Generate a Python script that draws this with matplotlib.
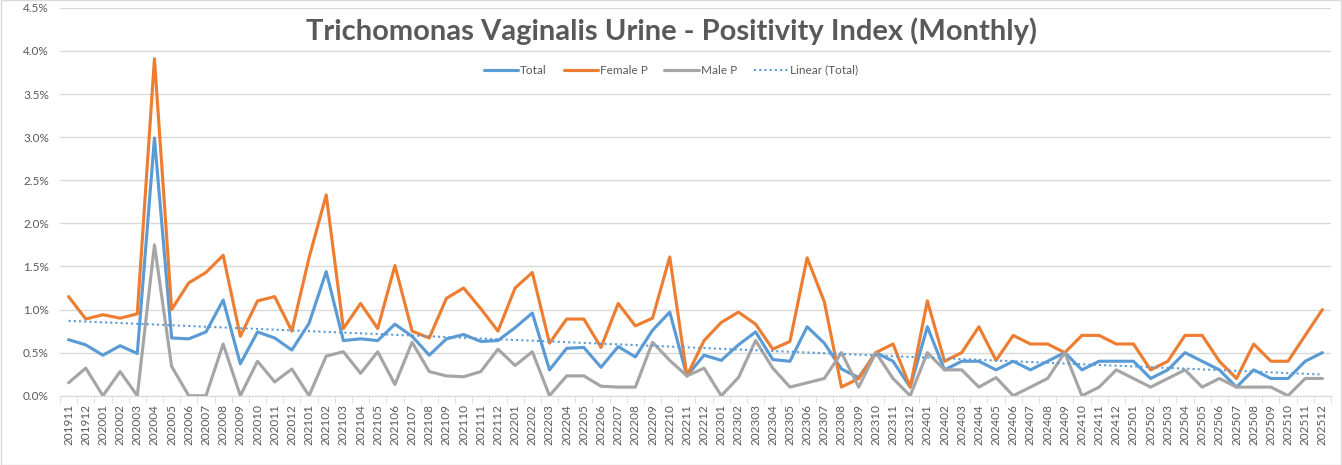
import numpy as np
import matplotlib
matplotlib.use("Agg")
import matplotlib.pyplot as plt
from matplotlib.ticker import FuncFormatter, FixedLocator
from matplotlib.patches import Rectangle

plt.rcParams['font.family'] = ['Lato', 'DejaVu Sans']

# months 201911 .. 202512
months = []
for y in range(2019, 2026):
    for m in range(1, 13):
        if (y, m) >= (2019, 11):
            months.append(f"{y}{m:02d}")

# positivity, percent
total = [0.65, 0.59, 0.47, 0.58, 0.49, 2.99, 0.67, 0.66, 0.74, 1.11,
         0.37, 0.74, 0.67, 0.53, 0.84, 1.44, 0.64, 0.66, 0.64, 0.83,
         0.69, 0.47, 0.66, 0.71, 0.63, 0.64, 0.79, 0.96, 0.30, 0.55,
         0.56, 0.33, 0.57, 0.45, 0.76, 0.97, 0.23, 0.47, 0.41, 0.59,
         0.74, 0.42, 0.40, 0.80, 0.61, 0.31, 0.21, 0.50, 0.40, 0.10,
         0.80, 0.30, 0.40, 0.40, 0.30, 0.40, 0.30, 0.40, 0.50, 0.30,
         0.40, 0.40, 0.40, 0.20, 0.30, 0.50, 0.40, 0.30, 0.10, 0.30,
         0.20, 0.20, 0.40, 0.50]
female = [1.15, 0.89, 0.94, 0.90, 0.95, 3.91, 1.00, 1.31, 1.43, 1.63,
          0.69, 1.10, 1.15, 0.75, 1.60, 2.33, 0.78, 1.07, 0.78, 1.51,
          0.75, 0.67, 1.13, 1.25, 1.01, 0.75, 1.25, 1.43, 0.61, 0.89,
          0.89, 0.56, 1.07, 0.81, 0.90, 1.61, 0.23, 0.64, 0.85, 0.97,
          0.83, 0.54, 0.63, 1.60, 1.09, 0.10, 0.20, 0.50, 0.60, 0.10,
          1.10, 0.40, 0.50, 0.80, 0.41, 0.70, 0.60, 0.60, 0.50, 0.70,
          0.70, 0.60, 0.60, 0.30, 0.40, 0.70, 0.70, 0.40, 0.20, 0.60,
          0.40, 0.40, 0.70, 1.00]
male = [0.15, 0.32, 0.00, 0.28, 0.00, 1.75, 0.34, 0.00, 0.00, 0.60,
        0.00, 0.40, 0.16, 0.31, 0.00, 0.46, 0.51, 0.26, 0.51, 0.13,
        0.62, 0.28, 0.23, 0.22, 0.28, 0.54, 0.35, 0.51, 0.00, 0.23,
        0.23, 0.11, 0.10, 0.10, 0.62, 0.41, 0.23, 0.32, 0.00, 0.21,
        0.64, 0.32, 0.10, 0.15, 0.20, 0.50, 0.10, 0.50, 0.20, 0.00,
        0.50, 0.30, 0.30, 0.10, 0.21, 0.00, 0.10, 0.20, 0.50, 0.00,
        0.10, 0.30, 0.20, 0.10, 0.20, 0.30, 0.10, 0.20, 0.10, 0.10,
        0.10, 0.00, 0.20, 0.20]

x = np.arange(len(months))
total = np.array(total) / 100
female = np.array(female) / 100
male = np.array(male) / 100

fig = plt.figure(figsize=(13.42, 4.65), dpi=100)
ax = fig.add_axes([0.0447, 0.149, 0.9471, 0.834])

ax.plot(x, total, color="#5B9BD5", lw=2.25, label="Total", solid_capstyle="round")
ax.plot(x, female, color="#ED7D31", lw=2.25, label="Female P", solid_capstyle="round")
ax.plot(x, male, color="#A5A5A5", lw=2.25, label="Male P", solid_capstyle="round")
k, b = np.polyfit(x, total, 1)
ax.plot(x, k * x + b, color="#5B9BD5", lw=1.5, ls=(0, (1, 1.5)), label="Linear (Total)")

ax.set_xlim(-0.5, len(months) - 0.5)
ax.set_ylim(0, 0.045)
ax.set_yticks(np.arange(0, 0.0451, 0.005))
ax.yaxis.set_major_formatter(FuncFormatter(lambda v, p: f"{v*100:.1f}%"))
ax.grid(axis="y", color="#D9D9D9", lw=1)
ax.set_axisbelow(True)

ax.set_xticks(x)
ax.set_xticklabels(months, rotation=90, fontsize=8.5, color="#595959")
ax.xaxis.set_minor_locator(FixedLocator(np.arange(-0.5, len(months), 1)))
ax.tick_params(axis="x", which="major", length=0, pad=6)
ax.tick_params(axis="x", which="minor", length=5, color="#D9D9D9")
ax.tick_params(axis="y", length=0, labelsize=8.5, labelcolor="#595959", pad=8)

for s in ["top", "right", "left"]:
    ax.spines[s].set_visible(False)
ax.spines["bottom"].set_color("#D9D9D9")

fig.text(0.5, 0.932, "Trichomonas Vaginalis Urine - Positivity Index (Monthly)",
         ha="center", va="center", fontsize=21, fontweight="bold", color="#595959")

fig.legend(loc="center", bbox_to_anchor=(0.5, 0.849), ncol=4, frameon=False,
           fontsize=8.5, labelcolor="#595959", handlelength=2.9, columnspacing=1.4,
           handletextpad=0.2)

fig.add_artist(Rectangle((0.0005, 0.001), 0.999, 0.998, transform=fig.transFigure,
                         fill=False, edgecolor="#D9D9D9", lw=1))

fig.savefig("out.png", dpi=100)
